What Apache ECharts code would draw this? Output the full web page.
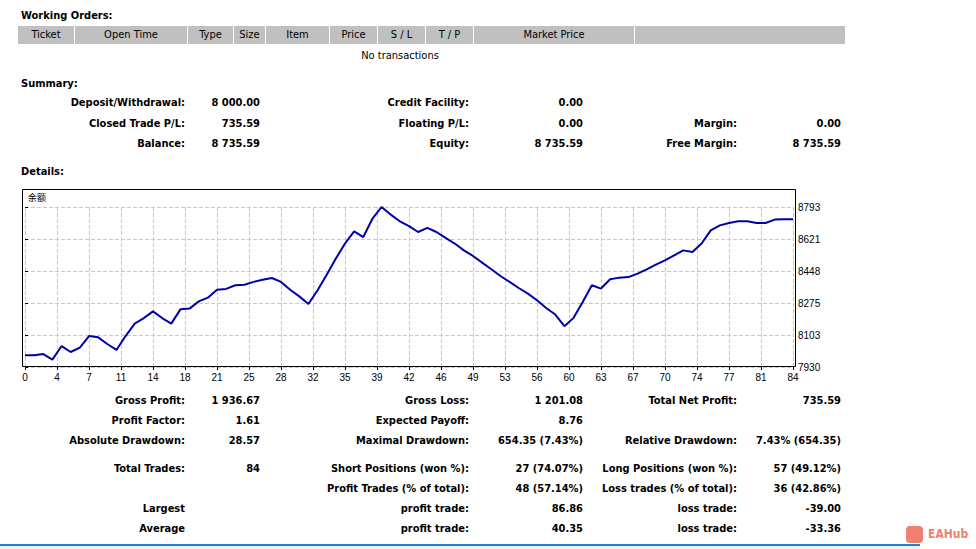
<!DOCTYPE html>
<html><head><meta charset="utf-8">
<script src="https://cdn.jsdelivr.net/npm/echarts@6/dist/echarts.min.js"></script>
<style>
html,body{margin:0;padding:0;background:#fff;width:976px;height:549px;overflow:hidden;font-family:"DejaVu Sans Condensed","Liberation Sans",sans-serif;}
.t{position:absolute;font-size:11px;font-weight:bold;color:#000;white-space:nowrap;line-height:13px;}
.r{transform:translateX(-100%);}
.h{position:absolute;top:26px;height:18px;background:#c0c0c0;font-size:11px;line-height:18px;text-align:center;color:#000;}
#chart{position:absolute;left:0;top:0;width:976px;height:549px;}
</style></head><body>
<div id="chart"></div>
<div id="txt"></div>
<script>
const xTickLabels=[0,4,7,11,14,18,21,25,28,32,35,39,42,46,49,53,56,60,63,67,70,74,77,81,84];
const yTickLabels=[7930,8103,8275,8448,8621,8793];
const balance=[7993,7993,8000,7970,8043,8011,8035,8097,8090,8054,8022,8097,8164,8194,8230,8194,8164,8241,8245,8284,8304,8347,8351,8371,8374,8389,8401,8410,8389,8347,8311,8270,8344,8428,8515,8596,8662,8631,8730,8793,8752,8716,8690,8658,8680,8658,8626,8596,8559,8529,8493,8457,8421,8389,8356,8326,8290,8248,8213,8150,8195,8281,8371,8353,8403,8412,8415,8434,8457,8482,8505,8532,8559,8550,8596,8667,8694,8707,8716,8716,8707,8707,8725,8727,8727];
const headerCols=[["Ticket",18,74],["Open Time",75,187],["Type",188,233],["Size",234,265],["Item",266,329],["Price",330,377],["S / L",378,425],["T / P",426,473],["Market Price",474,634],["",635,845]];
const texts=[
["Working Orders:",21,9,0],["No transactions",400,49,"c"],["Summary:",21,77,0],["Details:",21,165,0],
["Deposit/Withdrawal:",185,96,1],["8 000.00",260,96,1],["Credit Facility:",469,96,1],["0.00",583,96,1],
["Closed Trade P/L:",185,117,1],["735.59",260,117,1],["Floating P/L:",469,117,1],["0.00",583,117,1],["Margin:",737,117,1],["0.00",841,117,1],
["Balance:",185,137,1],["8 735.59",260,137,1],["Equity:",469,137,1],["8 735.59",583,137,1],["Free Margin:",737,137,1],["8 735.59",841,137,1],
["Gross Profit:",185,394,1],["1 936.67",260,394,1],["Gross Loss:",469,394,1],["1 201.08",583,394,1],["Total Net Profit:",737,394,1],["735.59",841,394,1],
["Profit Factor:",185,414,1],["1.61",260,414,1],["Expected Payoff:",469,414,1],["8.76",583,414,1],
["Absolute Drawdown:",185,434,1],["28.57",260,434,1],["Maximal Drawdown:",469,434,1],["654.35 (7.43%)",583,434,1],["Relative Drawdown:",737,434,1],["7.43% (654.35)",841,434,1],
["Total Trades:",185,462,1],["84",260,462,1],["Short Positions (won %):",469,462,1],["27 (74.07%)",583,462,1],["Long Positions (won %):",737,462,1],["57 (49.12%)",841,462,1],
["Profit Trades (% of total):",469,482,1],["48 (57.14%)",583,482,1],["Loss trades (% of total):",737,482,1],["36 (42.86%)",841,482,1],
["Largest",185,502,1],["profit trade:",469,502,1],["86.86",583,502,1],["loss trade:",737,502,1],["-39.00",841,502,1],
["Average",185,522,1],["profit trade:",469,522,1],["40.35",583,522,1],["loss trade:",737,522,1],["-33.36",841,522,1]
];
let html='';
headerCols.forEach(c=>{html+=`<div class="h" style="left:${c[1]}px;width:${c[2]-c[1]}px">${c[0]}</div>`;});
texts.forEach(t=>{
 const st=t[3]==="c"?'transform:translateX(-50%);font-weight:normal;':(t[3]?'':'');
 html+=`<div class="t ${t[3]===1?'r':''}" style="left:${t[1]}px;top:${t[2]}px;${st}">${t[0]}</div>`;
});
html+=`<div style="position:absolute;left:0;top:544px;width:920px;height:8px;border-top:2px solid #1e7fd8;background:#eef4fb"></div>`;
html+=`<div style="position:absolute;left:906px;top:526px;width:17px;height:17px;border-radius:4px;background:#f08070"></div><div style="position:absolute;left:928px;top:527px;font-size:12px;color:#f08070;font-weight:bold">EAHub</div>`;
document.getElementById('txt').innerHTML=html;

const chart=echarts.init(document.getElementById('chart'),null,{renderer:'svg'});
chart.setOption({
 animation:false,
 grid:{left:25,width:768,top:207,height:160},
 graphic:[{type:'rect',shape:{x:22.5,y:189.5,width:773,height:177},style:{fill:'none',stroke:'#000',lineWidth:1},z:100},
  {type:'text',left:28,top:193,style:{text:'余额',font:'9px "Noto Sans CJK SC"',fill:'#000'}}],
 xAxis:{type:'value',min:0,max:84,interval:3.5,
  axisLine:{show:false},axisTick:{show:true,length:3,lineStyle:{color:'#000'}},
  axisLabel:{color:'#000',fontSize:10,margin:5,formatter:v=>String(Math.round(v))},
  splitLine:{show:true,lineStyle:{type:'dashed',color:'#c8c8c8'}}},
 yAxis:{type:'value',position:'right',min:7930,max:8793,interval:172.6,
  axisLine:{show:false},axisTick:{show:true,length:3,lineStyle:{color:'#000'}},
  axisLabel:{color:'#000',fontSize:10,margin:5,formatter:(v)=>{const i=Math.round((v-7930)/172.6);return String(yTickLabels[i]??'');}},
  splitLine:{show:true,lineStyle:{type:'dashed',color:'#c8c8c8'}}},
 series:[{type:'line',data:balance.map((v,i)=>[i,v]),showSymbol:false,lineStyle:{color:'#0000a8',width:2}}]
});
</script></body></html>
